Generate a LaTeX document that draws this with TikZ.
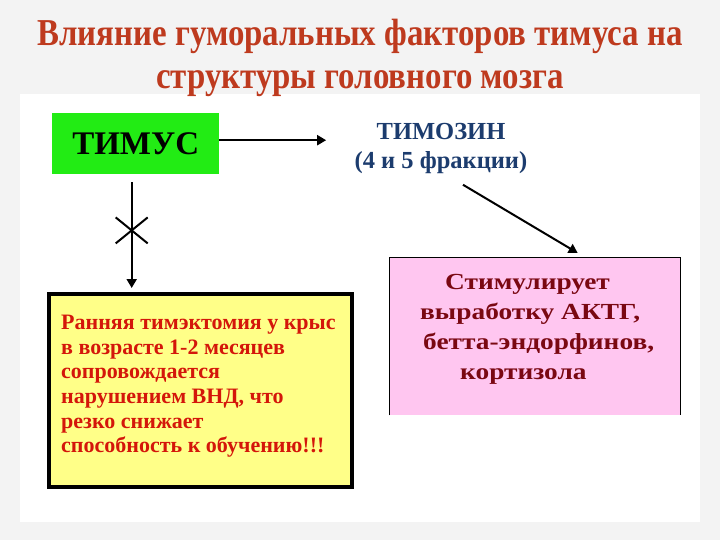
\documentclass[tikz,border=0pt]{standalone}
\usepackage{fontspec}
\setmainfont{Liberation Serif}
\newfontfamily\titlefont[FakeStretch=0.865]{Liberation Serif}
\newfontfamily\widefont[FakeStretch=1.19]{Liberation Serif}
\usepackage{tikz}
\usetikzlibrary{arrows.meta,calc,positioning}
\definecolor{pagegray}{RGB}{243,243,243}
\definecolor{titlered}{RGB}{190,58,30}
\definecolor{thymgreen}{RGB}{34,236,20}
\definecolor{hormblue}{RGB}{28,60,110}
\definecolor{softpink}{RGB}{255,198,240}
\definecolor{darkwine}{RGB}{122,8,18}
\definecolor{softyellow}{RGB}{255,255,136}
\definecolor{alertred}{RGB}{212,22,10}

\begin{document}
\begin{tikzpicture}[
  x=1pt, y=-1pt,
  font=\bfseries,
  plainbox/.style={inner sep=0pt, anchor=north west},
  arr/.style={-{Triangle[length=9pt,width=10pt]}, line width=2pt},
  crossline/.style={line width=2pt}
]
\useasboundingbox (0,0) rectangle (720,540);
\fill[pagegray] (0,0) rectangle (720,540);
\fill[white] (20,94) rectangle (700,522);
% title
\node[text=titlered, align=center, font=\titlefont\bfseries\fontsize{38}{43.5}\selectfont] (title) at (360,58)
  {Влияние гуморальных факторов тимуса на\\структуры головного мозга};
% thymus
\node[plainbox, fill=thymgreen, minimum width=167pt, minimum height=61pt,
  font=\bfseries\fontsize{33}{36}\selectfont] (thymus) at (52,113) {ТИМУС};
\node[text=hormblue, align=center, font=\bfseries\fontsize{24.5}{29}\selectfont] (thymosin) at (441,148)
  {ТИМОЗИН\\(4 и 5 фракции)};
% pink box
\node[plainbox, fill=softpink, minimum width=291pt, minimum height=158pt] (stim) at (389,257) {};
\draw[line width=1pt] (stim.south west) -- (stim.north west) -- (stim.north east) -- (stim.south east);
\node[plainbox, text=darkwine, align=left, font=\widefont\bfseries\fontsize{23}{30}\selectfont] (stimtext) at (420,274)
  {\hspace*{25pt}Стимулирует\\выработку АКТГ,\\\hspace*{3pt}бетта-эндорфинов,\\\hspace*{40pt}кортизола};
% yellow box
\node[plainbox, fill=softyellow, draw, line width=4pt, minimum width=303pt, minimum height=193pt] (rats) at (47,292) {};
\node[plainbox, text=alertred, align=left, font=\bfseries\fontsize{22}{24.6}\selectfont] (ratstext) at (61,315)
  {Ранняя тимэктомия у крыс\\в возрасте 1-2 месяцев\\сопровождается\\нарушением ВНД, что\\резко снижает\\способность к обучению!!!};
% connectors
\draw[arr, shorten >=25pt] ([yshift=3.5pt]thymus.east) -- ([yshift=3.5pt]thymus.east -| thymosin.west);
\draw[arr] ($(thymosin.south)+(22,8)$) -- ($(stim.north)+(43,-4)$);
\draw[arr, shorten >=4pt] ([xshift=-4pt,yshift=-8pt]thymus.south) coordinate (cut)
  -- ([xshift=-4pt]thymus.south |- rats.north);
\coordinate (cross) at ($(cut)+(0,48)$);
\draw[crossline] ($(cross)+(-16,-13)$) -- ($(cross)+(16,13)$);
\draw[crossline] ($(cross)+(-16,13)$) -- ($(cross)+(16,-13)$);
\end{tikzpicture}
\end{document}
